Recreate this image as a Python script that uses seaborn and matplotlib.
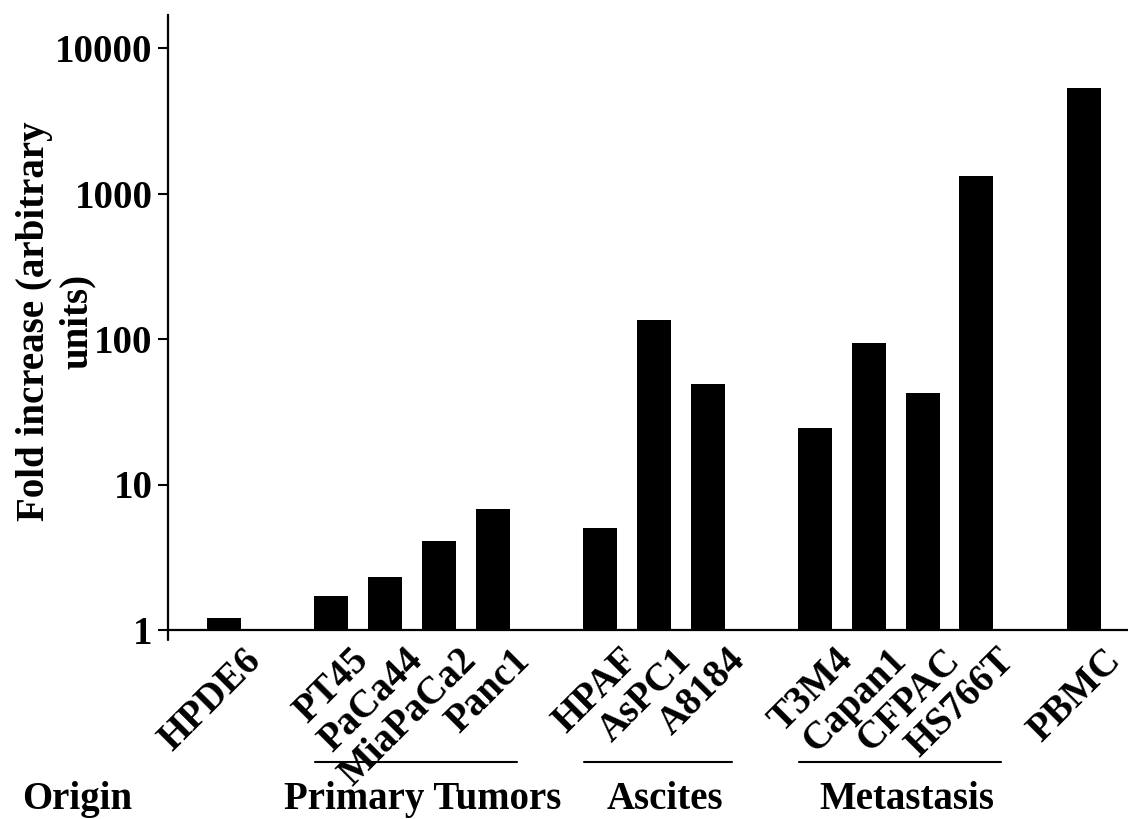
import matplotlib
matplotlib.use("Agg")
import matplotlib.pyplot as plt
import matplotlib.transforms as mtransforms
from matplotlib.ticker import NullLocator
import pandas as pd
import seaborn as sns

# Dades llegides del grafic (escala logaritmica)
cell_lines = ["HPDE6", "PT45", "PaCa44", "MiaPaCa2", "Panc1",
              "HPAF", "AsPC1", "A8184",
              "T3M4", "Capan1", "CFPAC", "HS766T", "PBMC"]
fold_increase = [1.21, 1.71, 2.31, 4.1, 6.8,
                 5.0, 135, 49,
                 24.5, 94, 42.6, 1320, 5300]
origin = ["Normal", "Primary Tumors", "Primary Tumors", "Primary Tumors", "Primary Tumors",
          "Ascites", "Ascites", "Ascites",
          "Metastasis", "Metastasis", "Metastasis", "Metastasis", "PBMC"]
labelled_groups = ["Primary Tumors", "Ascites", "Metastasis"]
y_ticks = [1, 10, 100, 1000, 10000]

df = pd.DataFrame({"line": cell_lines, "fold": fold_increase, "origin": origin})

# Ordre amb espais buits entre grups
order = []
group_order = list(dict.fromkeys(origin))
for i, g in enumerate(group_order):
    if i > 0:
        order.append(" " * i)
    order.extend(df.loc[df["origin"] == g, "line"].tolist())

sns.set_style("ticks")
plt.rcParams["font.family"] = ["Liberation Serif", "DejaVu Serif"]
plt.rcParams["font.weight"] = "bold"
for key in ["text.color", "axes.labelcolor", "xtick.color", "ytick.color", "axes.edgecolor"]:
    plt.rcParams[key] = "black"

fig = plt.figure(figsize=(11.28, 8.19), dpi=100)
ax = fig.add_axes([168 / 1128, (819 - 630) / 819, (1128 - 168) / 1128, (630 - 15) / 819])

sns.barplot(data=df, x="line", y="fold", order=order, color="black",
            width=0.63, errorbar=None, linewidth=0, saturation=1, ax=ax)

ax.set_yscale("log")
ax.set_ylim(1, 10 ** ((630 - 15) / 145.5))
ax.set_xlim(-1.04, len(order) - 1 + 0.82)
ax.set_yticks(y_ticks)
ax.set_yticklabels([str(t) for t in y_ticks], fontsize=28, fontweight="bold")
ax.yaxis.set_minor_locator(NullLocator())
ax.tick_params(axis="y", direction="out", length=7, width=1.5, pad=4, color="black")
ax.tick_params(axis="x", length=0, pad=0)
ax.set_xlabel("")
ax.set_ylabel("")

for lab in ax.get_xticklabels():
    lab.set_rotation(45)
    lab.set_ha("right")
    lab.set_va("top")
    lab.set_rotation_mode("anchor")
    lab.set_fontsize(28)
    lab.set_fontweight("bold")
    lab.set_transform(lab.get_transform() +
                      mtransforms.ScaledTranslation(0.19, -0.12, fig.dpi_scale_trans))

sns.despine(ax=ax)
for side in ["left", "bottom"]:
    ax.spines[side].set_linewidth(1.6)
    ax.spines[side].set_color("black")

# petita marca sota l'eix
ax.plot([0, 0], [0, -0.017], transform=ax.transAxes, color="black", lw=1.6, clip_on=False)

fig.text(0.0497, (819 - 321) / 819, "Fold increase (arbitrary\nunits)", rotation=90,
         ha="center", va="center", multialignment="center", fontsize=28,
         fontweight="bold", linespacing=1.2)

# Linies i noms de grups
trans = mtransforms.blended_transform_factory(ax.transData, fig.transFigure)
for g in labelled_groups:
    members = df.loc[df["origin"] == g, "line"].tolist()
    i0 = order.index(members[0])
    i1 = order.index(members[-1])
    ax.plot([i0 - 0.3, i1 + 0.45], [0.0696, 0.0696], transform=trans,
            color="black", lw=1.5, clip_on=False)
    ax.text((i0 + i1) / 2 + 0.2, 0.012, g, transform=trans, ha="center",
            va="baseline", fontsize=28, fontweight="bold")

fig.text(22 / 1128, 0.012, "Origin", ha="left", va="baseline", fontsize=28, fontweight="bold")

fig.savefig("out.png", dpi=100)
